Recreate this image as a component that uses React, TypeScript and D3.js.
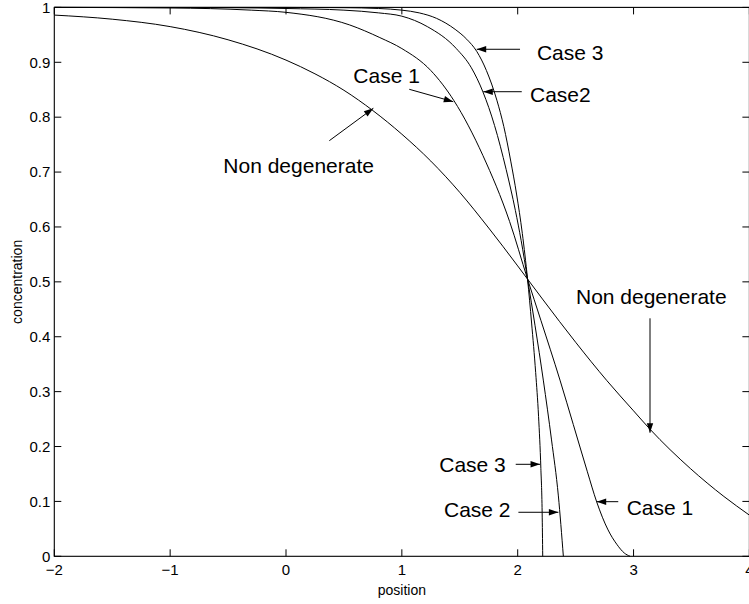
import React from 'react';
import * as d3 from 'd3';

const W = 749;
const H = 604;
const M = { left: 54.3, right: -0.4, top: 7.4, bottom: 47.7 };
const FONT = "'Liberation Sans', Arial, Helvetica, sans-serif";

const xTicks = [-2, -1, 0, 1, 2, 3, 4];
const xTickLabels = ['\u22122', '\u22121', '0', '1', '2', '3', '4'];
const yTicks = [0, 0.1, 0.2, 0.3, 0.4, 0.5, 0.6, 0.7, 0.8, 0.9, 1];
const yTickLabels = ['0', '0.1', '0.2', '0.3', '0.4', '0.5', '0.6', '0.7', '0.8', '0.9', '1'];

// curves
const nondegX = [-2, -1.5, -1, -0.5, 0, 0.25, 0.5, 0.75, 1.0, 1.25, 1.5, 1.75, 2.0, 2.085, 2.22, 2.5, 2.77, 3.0, 3.14, 3.49, 3.78, 4.0];
const nondegC = [0.986, 0.9785, 0.965, 0.941, 0.904, 0.879, 0.849, 0.812, 0.769, 0.72, 0.663, 0.598, 0.529, 0.505, 0.467, 0.39, 0.32, 0.265, 0.232, 0.16, 0.109, 0.075];

const case1X = [-2, -1, -0.3, 0, 0.55, 0.81, 1.0, 1.25, 1.45, 1.7, 1.93, 2.085, 2.2, 2.365, 2.48, 2.6, 2.682, 2.78, 2.855, 2.92, 2.97];
const case1C = [1.0, 0.999, 0.995, 0.991, 0.968, 0.945, 0.925, 0.885, 0.83, 0.73, 0.61, 0.505, 0.43, 0.321, 0.24, 0.155, 0.099, 0.048, 0.022, 0.006, 0];

const case2X = [-2, -0.5, 0, 0.5, 0.8, 1.0, 1.22, 1.47, 1.6, 1.7, 1.8, 1.9, 1.98, 2.03, 2.085, 2.15, 2.221, 2.292, 2.351, 2.394];
const case2C = [1.0, 0.9995, 0.998, 0.995, 0.99, 0.984, 0.965, 0.925, 0.89, 0.846, 0.785, 0.705, 0.63, 0.575, 0.505, 0.42, 0.321, 0.212, 0.11, 0];

const case3X = [-2, 0, 0.5, 0.8, 1.0, 1.15, 1.3, 1.46, 1.56, 1.646, 1.73, 1.82, 1.88, 1.94, 1.99, 2.04, 2.085, 2.12, 2.155, 2.18, 2.2, 2.211, 2.216];
const case3C = [1.0, 1.0, 0.9995, 0.998, 0.995, 0.99, 0.98, 0.96, 0.942, 0.92, 0.885, 0.831, 0.783, 0.72, 0.66, 0.588, 0.505, 0.425, 0.335, 0.255, 0.16, 0.08, 0];

const curves = [
  { name: 'nondeg', xs: nondegX, cs: nondegC },
  { name: 'case1', xs: case1X, cs: case1C },
  { name: 'case2', xs: case2X, cs: case2C },
  { name: 'case3', xs: case3X, cs: case3C },
];

// annotation text + arrow (data units)
const notes = [
  { text: 'Case 3', tx: 2.166, tc: 0.904, from: [2.02, 0.9237], to: [1.646, 0.9237] },
  { text: 'Case2', tx: 2.106, tc: 0.828, from: [2.035, 0.8464], to: [1.703, 0.8464] },
  { text: 'Case 1', tx: 0.581, tc: 0.862, from: [1.064, 0.8508], to: [1.444, 0.8282] },
  { text: 'Non degenerate', tx: -0.541, tc: 0.699, from: [0.374, 0.7572], to: [0.754, 0.8162] },
  { text: 'Non degenerate', tx: 2.503, tc: 0.459, from: [3.142, 0.4336], to: [3.142, 0.2252] },
  { text: 'Case 3', tx: 1.323, tc: 0.154, from: [1.983, 0.1676], to: [2.193, 0.1676] },
  { text: 'Case 2', tx: 1.364, tc: 0.072, from: [2.006, 0.0802], to: [2.351, 0.0802] },
  { text: 'Case 1', tx: 2.941, tc: 0.075, from: [2.868, 0.0995], to: [2.682, 0.0995] },
];

const App = () => {
  const x = d3.scaleLinear().domain([-2, 4]).range([M.left, W - M.right]);
  const y = d3.scaleLinear().domain([0, 1]).range([H - M.bottom, M.top]);
  const x0 = x(-2), x1 = x(4), y0 = y(0), y1 = y(1);
  const tick = 7;

  const line = d3.line<[number, number]>()
    .x(d => x(d[0]))
    .y(d => y(d[1]))
    .curve(d3.curveMonotoneX);

  const arrowHead = (fx: number, fy: number, tx: number, ty: number) => {
    const dx = tx - fx, dy = ty - fy;
    const len = Math.hypot(dx, dy);
    const ux = dx / len, uy = dy / len;
    const L = 9.5, hw = 3.2;
    const bx = tx - ux * L, by = ty - uy * L;
    return `${tx},${ty} ${bx - uy * hw},${by + ux * hw} ${bx + uy * hw},${by - ux * hw}`;
  };

  return (
    <svg width={W} height={H} style={{ position: 'absolute', left: 0, top: 0, background: '#fff' }}
      fontFamily={FONT}>
      <rect x={0} y={0} width={W} height={H} fill="#fff" />

      {/* curves */}
      {curves.map(c => (
        <path key={c.name}
          d={line(c.xs.map((v, i) => [v, c.cs[i]] as [number, number])) || ''}
          fill="none" stroke="#000" strokeWidth={1} />
      ))}

      {/* box */}
      <rect x={x0} y={y1} width={x1 - x0} height={y0 - y1} fill="none" stroke="#000" strokeWidth={1.1} />

      {/* x ticks */}
      {xTicks.map((t, i) => (
        <g key={'xt' + t}>
          <line x1={x(t)} x2={x(t)} y1={y0} y2={y0 - tick} stroke="#000" />
          <line x1={x(t)} x2={x(t)} y1={y1} y2={y1 + tick} stroke="#000" />
          <text x={x(t)} y={y0 + 19} fontSize={15} textAnchor="middle">{xTickLabels[i]}</text>
        </g>
      ))}

      {/* y ticks */}
      {yTicks.map((t, i) => (
        <g key={'yt' + t}>
          <line x1={x0} x2={x0 + tick} y1={y(t)} y2={y(t)} stroke="#000" />
          <line x1={x1} x2={x1 - tick} y1={y(t)} y2={y(t)} stroke="#000" />
          <text x={x0 - 4} y={y(t) + 5.3} fontSize={15} textAnchor="end">{yTickLabels[i]}</text>
        </g>
      ))}

      {/* axis labels */}
      <text x={(x0 + x1) / 2} y={H - 9} fontSize={14} textAnchor="middle">position</text>
      <text transform={`translate(21.5,${(y0 + y1) / 2}) rotate(-90)`} fontSize={14} textAnchor="middle">concentration</text>

      {/* annotations */}
      {notes.map((n, i) => {
        const fx = x(n.from[0]), fy = y(n.from[1]);
        const tx = x(n.to[0]), ty = y(n.to[1]);
        return (
          <g key={'n' + i}>
            <text x={x(n.tx)} y={y(n.tc)} fontSize={21}>{n.text}</text>
            <line x1={fx} y1={fy} x2={tx} y2={ty} stroke="#000" strokeWidth={1} />
            <polygon points={arrowHead(fx, fy, tx, ty)} fill="#000" />
          </g>
        );
      })}
    </svg>
  );
};

export default App;
